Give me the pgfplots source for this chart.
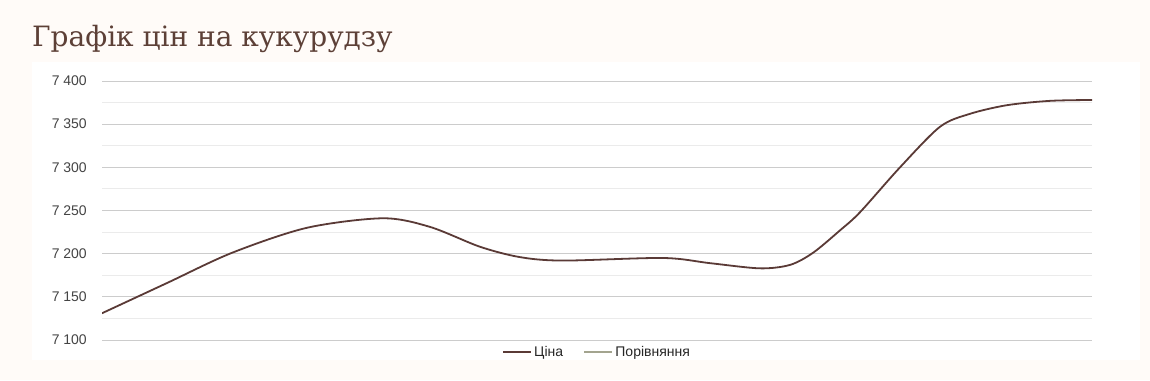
\documentclass[border=0pt]{standalone}
\usepackage{pgfplots}
\pgfplotsset{compat=1.18}
\usepackage{fontspec}
\setmainfont{Liberation Sans}
\newfontfamily\titlefont{DejaVu Serif}
\definecolor{bgc}{HTML}{FFFBF8}
\definecolor{brownline}{HTML}{5A3A36}
\definecolor{cmpline}{HTML}{A3A48F}
\definecolor{titlec}{HTML}{5D4037}
\definecolor{tickc}{HTML}{444444}
\begin{document}
\begin{tikzpicture}[x=1pt,y=1pt]
\fill[bgc] (0,0) rectangle (1150,-380);
\fill[white] (32,-62) rectangle (1140,-360);
\node[anchor=base west, inner sep=0pt, text=titlec, font=\titlefont\fontsize{28}{33}\selectfont] at (32,-46) {Графік цін на кукурудзу};
\begin{axis}[
  at={(102pt,-340pt)}, anchor=south west,
  scale only axis, width=990pt, height=259pt,
  xmin=102, xmax=1092, ymin=7100, ymax=7400,
  axis line style={draw=none},
  xtick=\empty,
  ytick={7100,7150,7200,7250,7300,7350,7400},
  minor y tick num=1,
  major tick length=0pt, minor tick length=0pt,
  ymajorgrids, yminorgrids,
  major grid style={draw=black!20, line width=0.9pt},
  minor grid style={draw=black!8, line width=0.9pt},
  /pgf/number format/assume math mode=true,
  /pgf/number format/1000 sep={\ },
  yticklabel style={anchor=east, inner sep=0pt, xshift=-15pt, text=tickc, font=\fontsize{14}{16}\selectfont},
  legend style={draw=none, fill=none, at={(0.5,0)}, anchor=center, yshift=-12pt,
    font=\fontsize{14}{16}\selectfont, text=black!85, legend columns=2,
    /tikz/every even column/.append style={column sep=18pt}},
  legend image code/.code={\draw[#1, line width=2.2pt] (0pt,0pt) -- (28pt,0pt);},
]
\addplot[brownline, line width=1.8pt, smooth, tension=0.5] coordinates {
(102,7131) (167,7166) (232,7201) (307,7230) (383,7241) (430,7231) (480,7208)
(520,7196) (563,7192) (663,7195) (710,7189) (760,7183) (790,7187) (813,7201)
(840,7227) (860,7248) (900,7300) (940,7347) (970,7362) (1007,7372) (1050,7377) (1092,7378)
};
\addlegendentry{Ціна}
\addlegendimage{cmpline}
\addlegendentry{Порівняння}
\end{axis}
\end{tikzpicture}
\end{document}
